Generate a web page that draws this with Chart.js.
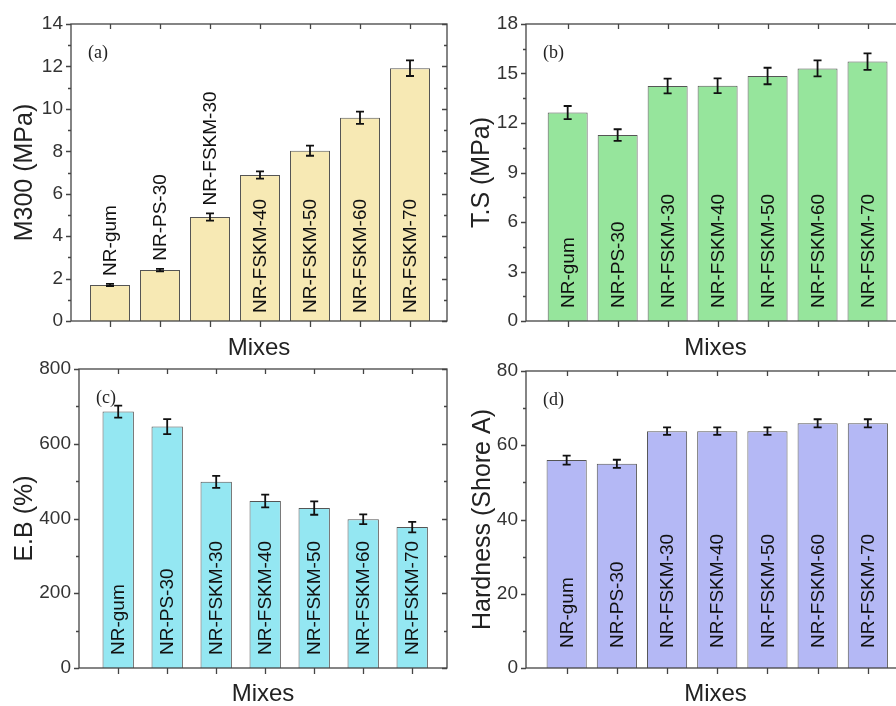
<!DOCTYPE html>
<html>
<head>
<meta charset="utf-8">
<script src="https://cdn.jsdelivr.net/npm/chart.js@4.4.0/dist/chart.umd.min.js"></script>
<style>
  html, body { margin: 0; padding: 0; background: #fff; overflow: hidden; width: 896px; height: 706px; }
  .panel { position: absolute; }
</style>
</head>
<body>
<div class="panel" style="left:0;top:0"><canvas id="chartA" width="451" height="365"></canvas></div>
<div class="panel" style="left:455px;top:0"><canvas id="chartB" width="454" height="365"></canvas></div>
<div class="panel" style="left:0;top:345px"><canvas id="chartC" width="451" height="361"></canvas></div>
<div class="panel" style="left:455px;top:345px"><canvas id="chartD" width="454" height="361"></canvas></div>
<script>
const mixes = ["NR-gum", "NR-PS-30", "NR-FSKM-30", "NR-FSKM-40", "NR-FSKM-50", "NR-FSKM-60", "NR-FSKM-70"];

const m300 = [1.7, 2.4, 4.9, 6.88, 8.03, 9.58, 11.92];
const m300Err = [0.05, 0.06, 0.17, 0.17, 0.24, 0.29, 0.37];

const tensile = [12.63, 11.27, 14.24, 14.26, 14.85, 15.31, 15.72];
const tensileErr = [0.4, 0.35, 0.45, 0.45, 0.5, 0.48, 0.5];

const elongation = [686, 646, 498, 447, 428, 398, 377];
const elongationErr = [16, 20, 16, 17, 18, 13, 14];

const hardness = [56, 55, 63.8, 63.8, 63.8, 65.9, 65.9];
const hardnessErr = [1.2, 1.1, 1.0, 1.0, 1.0, 1.1, 1.1];

const sans = "'Liberation Sans', Arial, sans-serif";
const serif = "'Liberation Serif', 'Times New Roman', serif";

// error bars, rotated mix names, frame with ticks, panel letter
const decor = {
    id: "decor",
    afterDatasetsDraw(chart, args, opts) {
        const ctx = chart.ctx;
        const y = chart.scales.y;
        const meta = chart.getDatasetMeta(0);
        const pts = chart.data.datasets[0].data;
        ctx.save();
        ctx.strokeStyle = "#111";
        ctx.lineWidth = 1.8;
        meta.data.forEach((bar, i) => {
            const yt = y.getPixelForValue(pts[i].y + opts.errors[i]);
            const yb = y.getPixelForValue(pts[i].y - opts.errors[i]);
            ctx.beginPath();
            ctx.moveTo(bar.x, yt); ctx.lineTo(bar.x, yb);
            ctx.moveTo(bar.x - 4, yt); ctx.lineTo(bar.x + 4, yt);
            ctx.moveTo(bar.x - 4, yb); ctx.lineTo(bar.x + 4, yb);
            ctx.stroke();
        });
        ctx.font = "19px " + sans;
        ctx.fillStyle = "#111";
        ctx.textAlign = "left";
        ctx.textBaseline = "middle";
        meta.data.forEach((bar, i) => {
            const text = opts.labels[i];
            const w = ctx.measureText(text).width;
            let yy = bar.base - opts.labelOffset;
            if (w + opts.labelOffset + 6 > bar.base - bar.y) {
                yy = y.getPixelForValue(pts[i].y + opts.errors[i]) - 8;
            }
            ctx.save();
            ctx.translate(bar.x + 1, yy);
            ctx.rotate(-Math.PI / 2);
            ctx.fillText(text, 0, 0);
            ctx.restore();
        });
        ctx.restore();
    },
    afterDraw(chart, args, opts) {
        const ctx = chart.ctx;
        const { left, right, top, bottom } = chart.chartArea;
        const x = chart.scales.x, y = chart.scales.y;
        ctx.save();
        ctx.strokeStyle = "#444";
        ctx.lineWidth = 1.3;
        ctx.strokeRect(left, top, right - left, bottom - top);
        ctx.beginPath();
        for (let k = 0; k * opts.minor <= y.max + 1e-9; k++) {
            const py = Math.round(y.getPixelForValue(k * opts.minor)) + 0.5;
            const len = k % 2 === 0 ? 5 : 3;
            ctx.moveTo(left - len, py); ctx.lineTo(left, py);
            ctx.moveTo(right, py); ctx.lineTo(right - len, py);
        }
        chart.data.datasets[0].data.forEach(p => {
            const px = Math.round(x.getPixelForValue(p.x)) + 0.5;
            ctx.moveTo(px, bottom); ctx.lineTo(px, bottom + 6);
            ctx.moveTo(px, top); ctx.lineTo(px, top + 5);
        });
        ctx.stroke();
        ctx.fillStyle = "#222";
        ctx.font = "18px " + serif;
        ctx.textAlign = "left";
        ctx.textBaseline = "middle";
        ctx.fillText(opts.letter, left + 17, top + 29);
        ctx.restore();
    }
};

function makePanel(id, cfg) {
    new Chart(document.getElementById(id), {
        type: "bar",
        data: {
            datasets: [{
                data: cfg.values.map((v, i) => ({ x: i + 1, y: v })),
                backgroundColor: cfg.fill,
                borderColor: "#555",
                borderWidth: 1,
                categoryPercentage: 1,
                barPercentage: 0.8
            }]
        },
        options: {
            responsive: false,
            animation: false,
            layout: { padding: { left: 0, top: cfg.padTop, right: cfg.padRight, bottom: 0 } },
            plugins: {
                legend: { display: false },
                tooltip: { enabled: false },
                decor: {
                    letter: cfg.letter,
                    errors: cfg.errors,
                    labels: mixes,
                    labelOffset: cfg.labelOffset,
                    minor: cfg.step / 2
                }
            },
            scales: {
                x: {
                    type: "linear",
                    min: cfg.xMin,
                    max: cfg.xMax,
                    offset: false,
                    grid: { display: false, drawTicks: false },
                    border: { display: false },
                    ticks: { display: false },
                    title: {
                        display: true, text: "Mixes", color: "#222",
                        font: { family: sans, size: 24 },
                        padding: { top: 0, bottom: cfg.titleBottom }
                    },
                    afterFit(s) { s.height = cfg.axisHeight; s.paddingLeft = 0; s.paddingRight = 0; }
                },
                y: {
                    min: 0,
                    max: cfg.yMax,
                    grid: { display: false, drawTicks: true, tickLength: 5 },
                    border: { display: false },
                    ticks: { stepSize: cfg.step, color: "#333", padding: 3, font: { family: sans, size: 19 } },
                    title: {
                        display: true, text: cfg.yTitle, color: "#222",
                        font: { family: sans, size: 25 },
                        padding: { top: cfg.titleLeft, bottom: 0 }
                    },
                    afterFit(s) { s.width = cfg.axisWidth; s.paddingTop = 0; s.paddingBottom = 0; }
                }
            }
        },
        plugins: [decor]
    });
}

makePanel("chartA", {
    values: m300, errors: m300Err, letter: "(a)", yTitle: "M300 (MPa)", yMax: 14, step: 2,
    fill: "#F7E9B4", xMin: 0.22, xMax: 7.74, axisWidth: 71, padTop: 24, padRight: 4,
    axisHeight: 44, titleBottom: 2.6, titleLeft: 10, labelOffset: 8
});
makePanel("chartB", {
    values: tensile, errors: tensileErr, letter: "(b)", yTitle: "T.S (MPa)", yMax: 18, step: 3,
    fill: "#96E59C", xMin: 0.166, xMax: 7.75, axisWidth: 71, padTop: 24, padRight: 4,
    axisHeight: 44, titleBottom: 2.6, titleLeft: 12, labelOffset: 13
});
makePanel("chartC", {
    values: elongation, errors: elongationErr, letter: "(c)", yTitle: "E.B (%)", yMax: 800, step: 200,
    fill: "#94E7F2", xMin: 0.2, xMax: 7.71, axisWidth: 79, padTop: 24, padRight: 4,
    axisHeight: 38, titleBottom: -2.4, titleLeft: 10, labelOffset: 13
});
makePanel("chartD", {
    values: hardness, errors: hardnessErr, letter: "(d)", yTitle: "Hardness (Shore A)", yMax: 80, step: 20,
    fill: "#B4B8F5", xMin: 0.19, xMax: 7.74, axisWidth: 71, padTop: 26, padRight: 4,
    axisHeight: 38, titleBottom: -2.4, titleLeft: 13, labelOffset: 20
});
</script>
</body>
</html>
